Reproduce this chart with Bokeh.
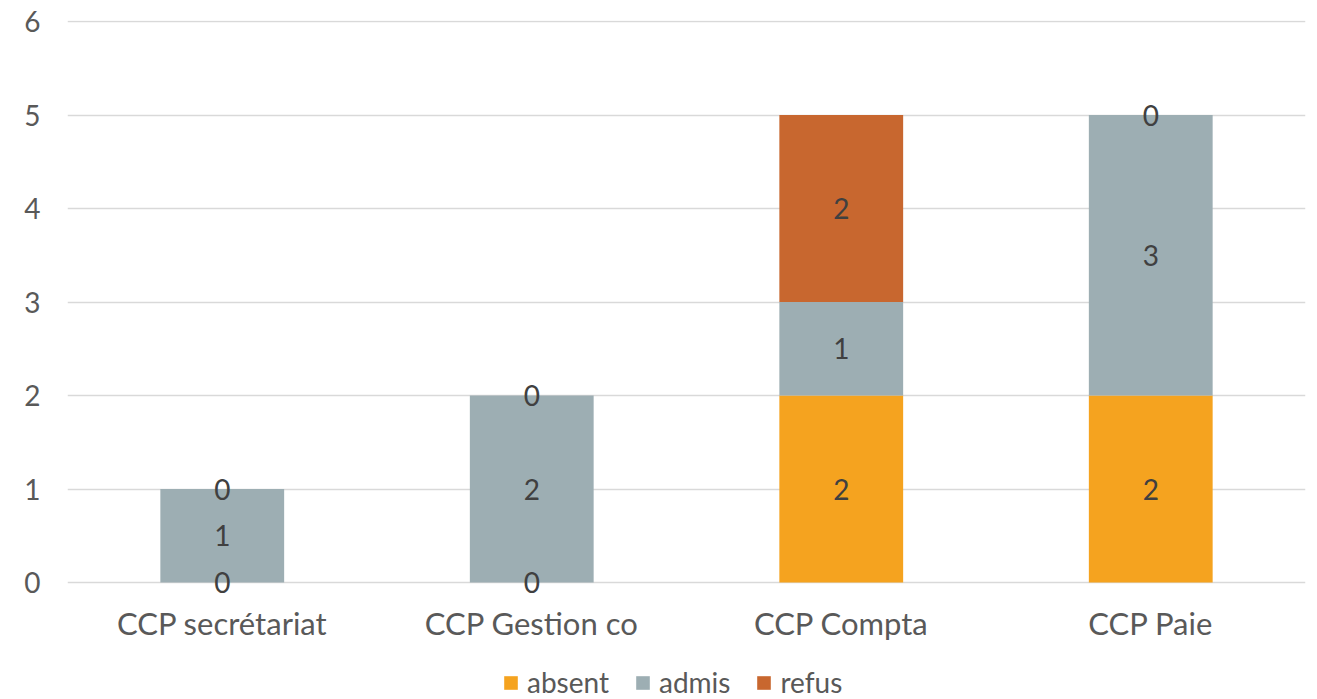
from bokeh.plotting import figure
from bokeh.models import (ColumnDataSource, FactorRange, Range1d, Legend, LegendItem,
                          FixedTicker, LabelSet)
from bokeh.core.properties import value
from bokeh.embed import file_html
from bokeh.resources import INLINE

categories = ["CCP secrétariat", "CCP Gestion co", "CCP Compta", "CCP Paie"]
absent = [0, 0, 2, 2]
admis = [1, 2, 1, 3]
refus = [0, 0, 2, 0]
series_names = ["absent", "admis", "refus"]
colors = ["#F5A31F", "#9DAEB3", "#C8672F"]
y_ticks = [0, 1, 2, 3, 4, 5, 6]

FONT = "Lato"

src = ColumnDataSource(dict(cat=categories, absent=absent, admis=admis, refus=refus))

# frame reaches down to the bottom so the legend can sit inside it, under the x axis
p = figure(x_range=FactorRange(*categories, range_padding=0), y_range=Range1d(-1.2513, 6.0107),
           frame_width=1238, frame_height=679, output_backend="svg", toolbar_location=None,
           min_border_left=67, min_border_right=4, min_border_top=20, min_border_bottom=0)

renderers = p.vbar_stack(series_names, x="cat", width=0.4, color=colors, source=src,
                         line_color=None)

# data labels at segment centres
lx, ly, lt = [], [], []
for i, c in enumerate(categories):
    base = 0
    for s in (absent, admis, refus):
        v = s[i]
        lx.append(c)
        ly.append(base + v / 2)
        lt.append(str(v))
        base += v
lab_src = ColumnDataSource(dict(x=lx, y=ly, t=lt))
labels = LabelSet(x="x", y="y", text="t", source=lab_src, text_align="center",
                  text_baseline="middle", text_font=value(FONT), text_font_size="28px",
                  text_color="#404040")
p.add_layout(labels)

p.xgrid.grid_line_color = None
p.ygrid.ticker = FixedTicker(ticks=y_ticks)
p.ygrid.grid_line_color = "#D9D9D9"
p.ygrid.grid_line_width = 1.5
p.outline_line_color = None

p.yaxis.ticker = FixedTicker(ticks=y_ticks)
for ax in (p.xaxis[0], p.yaxis[0]):
    ax.axis_label = None
    ax.axis_label_standoff = 0
    ax.axis_line_color = None
    ax.major_tick_line_color = None
    ax.minor_tick_line_color = None
    ax.major_tick_out = 0
    ax.major_tick_in = 0
    ax.major_label_text_font = FONT
    ax.major_label_text_color = "#595959"
p.yaxis.major_label_text_font_size = "28px"
p.xaxis.major_label_text_font_size = "31px"
p.yaxis.major_label_standoff = 27
p.xaxis.fixed_location = 0
p.xaxis.major_label_standoff = 21

legend = Legend(items=[LegendItem(label=n, renderers=[r]) for n, r in zip(series_names, renderers)],
                orientation="horizontal", location=(435, 0),
                label_text_font=FONT, label_text_font_size="28px", label_text_color="#595959",
                glyph_width=17, glyph_height=17, label_standoff=8, spacing=25,
                padding=0, margin=0, border_line_color=None, background_fill_alpha=0)
p.add_layout(legend)

open("out.html", "w").write(file_html(p, INLINE))
